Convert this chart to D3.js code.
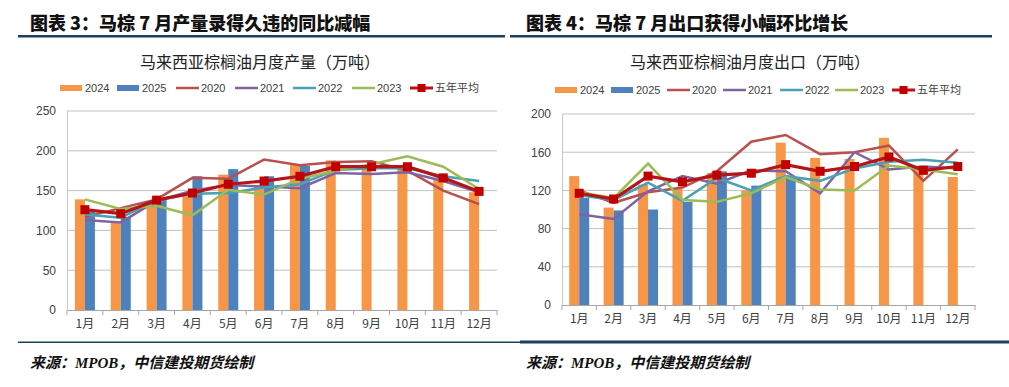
<!DOCTYPE html>
<html>
<head>
<meta charset="utf-8">
<script src="https://cdn.jsdelivr.net/npm/d3@7"></script>
<style>
  body { margin: 0; background: #fff; }
  svg { display: block; }
</style>
</head>
<body>
<div id="chart"></div>
<script>
// 月份与图例
const months = ["1月", "2月", "3月", "4月", "5月", "6月", "7月", "8月", "9月", "10月", "11月", "12月"];
const barNames = ["2024", "2025"];
const lineNames = ["2020", "2021", "2022", "2023"];
const avgName = "五年平均";

// 马来西亚棕榈油月度产量（万吨）
const prod2024 = [139, 111, 132, 143, 170, 155, 183, 188, 182, 181, 166, 148];
const prod2025 = [124, 117, 140, 168, 177, 168, 181];
const prod2020 = [117, 128, 139, 166, 165, 189, 182, 186, 187, 175, 150, 133];
const prod2021 = [113, 110, 137, 150, 157, 155, 153, 172, 171, 173, 162, 148];
const prod2022 = [120, 116, 138, 146, 147, 154, 158, 176, 178, 178, 168, 162];
const prod2023 = [139, 127, 131, 119, 151, 145, 165, 175, 183, 193, 180, 152];
const prodAvg  = [126, 121, 138, 147, 158, 162, 168, 180, 180, 180, 166, 149];
const prodTicks = [0, 50, 100, 150, 200, 250];

// 马来西亚棕榈油月度出口（万吨）
const exp2024 = [135, 102, 126, 122, 138, 120, 170, 154, 153, 175, 143, 134];
const exp2025 = [112, 99, 100, 108, 140, 125, 133];
const exp2020 = [120, 107, 118, 123, 140, 171, 178, 158, 160, 167, 130, 163];
const exp2021 = [95, 90, 119, 135, 127, 141, 140, 117, 160, 142, 145, 143];
const exp2022 = [115, 110, 128, 109, 133, 120, 135, 130, 143, 150, 152, 149];
const exp2023 = [118, 112, 148, 110, 108, 117, 134, 121, 120, 146, 142, 137];
const expAvg   = [117, 111, 135, 129, 136, 138, 147, 140, 145, 155, 141, 145];
const expTicks = [0, 40, 80, 120, 160, 200];

const barColors = ["#F79646", "#4F81BD"];
const lineColors = ["#B9504D", "#8064A2", "#4AA0B4", "#9BBB59"];
const avgColor = "#B51418";
const avgMarker = "#C00000";
const navy = "#1F3F60";
const cjk = "'Noto Sans CJK SC', 'Noto Sans', sans-serif";

const svg = d3.select("#chart").append("svg")
  .attr("width", 1009).attr("height", 387);

// 顶部、底部的分隔线
svg.append("rect").attr("x", 18).attr("y", 35).attr("width", 487).attr("height", 2.5).attr("fill", navy);
svg.append("rect").attr("x", 510).attr("y", 35).attr("width", 482).attr("height", 2.5).attr("fill", navy);
svg.append("rect").attr("x", 18).attr("y", 341.5).attr("width", 502).attr("height", 1.5).attr("fill", navy);
svg.append("rect").attr("x", 520).attr("y", 340.5).attr("width", 489).attr("height", 3).attr("fill", navy);

function drawPanel(cfg) {
  const g = svg.append("g");

  g.append("text")
    .attr("x", cfg.headerX).attr("y", 30)
    .attr("font-family", cjk).attr("font-weight", 900)
    .attr("font-size", 18).attr("fill", "#111")
    .text(cfg.header);

  g.append("text")
    .attr("x", cfg.titleX).attr("y", 68)
    .attr("text-anchor", "middle")
    .attr("font-family", cjk).attr("font-size", 16).attr("fill", "#222")
    .text(cfg.title);

  const x = d3.scaleBand().domain(months).range([cfg.left, cfg.right]);
  const y = d3.scaleLinear().domain([0, cfg.ticks[cfg.ticks.length - 1]]).range([cfg.bottom, cfg.top]);

  // 网格线
  g.append("g").selectAll("line").data(cfg.ticks.slice(1)).join("line")
    .attr("x1", cfg.left).attr("x2", cfg.right)
    .attr("y1", d => y(d)).attr("y2", d => y(d))
    .attr("stroke", "#C0C0C0").attr("stroke-width", 1);

  // y 轴
  const yAxis = g.append("g")
    .attr("transform", `translate(${cfg.left},0)`)
    .call(d3.axisLeft(y).tickValues(cfg.ticks).tickSize(0).tickPadding(11));
  yAxis.select(".domain").attr("stroke", "#C8C8C8");
  yAxis.selectAll("text").attr("font-family", "'Liberation Sans', sans-serif")
    .attr("font-size", 12).attr("fill", "#404040");

  // x 轴
  const xAxis = g.append("g")
    .attr("transform", `translate(0,${cfg.bottom})`)
    .call(d3.axisBottom(x).tickSize(0).tickPadding(9));
  xAxis.select(".domain").attr("stroke", "#A6A6A6");
  xAxis.selectAll("text").attr("font-family", cjk)
    .attr("font-size", 12).attr("fill", "#404040");
  const bounds = months.map(m => x(m)).concat([cfg.right]);
  g.append("g").selectAll("line").data(bounds).join("line")
    .attr("x1", d => d).attr("x2", d => d)
    .attr("y1", cfg.bottom).attr("y2", cfg.bottom + 5)
    .attr("stroke", "#A6A6A6");

  // 柱子
  const bw = 10;
  cfg.bars.forEach((vals, i) => {
    g.append("g").selectAll("rect").data(vals).join("rect")
      .attr("x", (d, j) => x(months[j]) + x.bandwidth() / 2 + (i === 0 ? -bw : 0))
      .attr("y", d => y(d))
      .attr("width", bw)
      .attr("height", d => cfg.bottom - y(d))
      .attr("fill", barColors[i]);
  });

  const line = d3.line()
    .x((d, j) => x(months[j]) + x.bandwidth() / 2)
    .y(d => y(d));

  cfg.lines.forEach((vals, i) => {
    g.append("path").datum(vals)
      .attr("d", line)
      .attr("fill", "none")
      .attr("stroke", lineColors[i])
      .attr("stroke-width", 2.5);
  });

  g.append("path").datum(cfg.avg)
    .attr("d", line)
    .attr("fill", "none")
    .attr("stroke", avgColor)
    .attr("stroke-width", 3.2);
  g.append("g").selectAll("rect").data(cfg.avg).join("rect")
    .attr("x", (d, j) => x(months[j]) + x.bandwidth() / 2 - 4.5)
    .attr("y", d => y(d) - 4.5)
    .attr("width", 9).attr("height", 9)
    .attr("fill", avgMarker);

  // 图例
  const lg = g.append("g").attr("font-family", "'Liberation Sans', sans-serif")
    .attr("font-size", 11).attr("fill", "#404040");
  const items = barNames.map((n, i) => ({ name: n, type: "bar", color: barColors[i] }))
    .concat(lineNames.map((n, i) => ({ name: n, type: "line", color: lineColors[i] })))
    .concat([{ name: avgName, type: "avg", color: avgColor }]);
  items.forEach((it, i) => {
    const lx = cfg.legendX[i];
    const ly = cfg.legendY;
    if (it.type === "bar") {
      lg.append("rect").attr("x", lx).attr("y", ly - 3).attr("width", 22).attr("height", 6).attr("fill", it.color);
    } else {
      lg.append("line").attr("x1", lx).attr("x2", lx + 23).attr("y1", ly).attr("y2", ly)
        .attr("stroke", it.color).attr("stroke-width", it.type === "avg" ? 3 : 2.5);
      if (it.type === "avg") {
        lg.append("rect").attr("x", lx + 7.5).attr("y", ly - 4).attr("width", 8).attr("height", 8).attr("fill", avgMarker);
      }
    }
    lg.append("text").attr("x", lx + 25).attr("y", ly + 4)
      .attr("font-family", it.type === "avg" ? cjk : null)
      .text(it.name);
  });

  g.append("text")
    .attr("x", cfg.headerX).attr("y", 368)
    .attr("font-family", "'Liberation Serif', 'Noto Sans CJK SC', serif")
    .attr("font-weight", "bold").attr("font-style", "italic")
    .attr("font-size", 15).attr("fill", "#111")
    .text("来源：MPOB，中信建投期货绘制");
}

drawPanel({
  header: "图表 3：马棕 7 月产量录得久违的同比减幅",
  headerX: 30,
  title: "马来西亚棕榈油月度产量（万吨）",
  titleX: 260,
  left: 67, right: 497, top: 111, bottom: 310,
  ticks: prodTicks,
  bars: [prod2024, prod2025],
  lines: [prod2020, prod2021, prod2022, prod2023],
  avg: prodAvg,
  legendX: [60, 117, 176, 235, 293, 352, 410],
  legendY: 88
});

drawPanel({
  header: "图表 4：马棕 7 月出口获得小幅环比增长",
  headerX: 526,
  title: "马来西亚棕榈油月度出口（万吨）",
  titleX: 750,
  left: 562, right: 975, top: 114, bottom: 305,
  ticks: expTicks,
  bars: [exp2024, exp2025],
  lines: [exp2020, exp2021, exp2022, exp2023],
  avg: expAvg,
  legendX: [555, 611, 667, 723, 780, 835, 892],
  legendY: 90
});
</script>
</body>
</html>
